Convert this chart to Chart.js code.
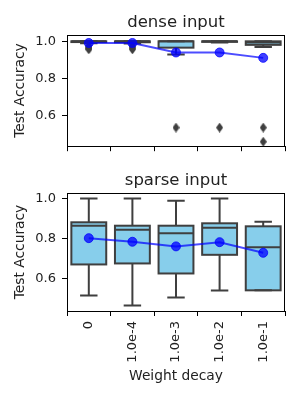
<!DOCTYPE html>
<html>
<head>
<meta charset="utf-8">
<script src="https://cdn.jsdelivr.net/npm/chart.js@4"></script>
<style>
  html, body { margin: 0; padding: 0; background: #fff; }
  #wrap { position: relative; width: 300px; height: 400px; }
  canvas { position: absolute; left: 0; }
</style>
</head>
<body>
<div id="wrap">
  <canvas id="grafDense" width="300" height="160" style="top:0;width:300px;height:160px"></canvas>
  <canvas id="grafSparse" width="300" height="242" style="top:158px;width:300px;height:242px"></canvas>
</div>
<script>
// categories + tick labels
const decayLabels = ['0', '1.0e-4', '1.0e-3', '1.0e-2', '1.0e-1'];
const yTicks = [0.6, 0.8, 1.0];

// dense input
const denseLow    = [0.989, 0.988, 0.929, 0.993, 0.970];
const denseQ1     = [0.996, 0.995, 0.966, 0.997, 0.981];
const denseMedian = [1.000, 1.000, 1.000, 1.000, 0.993];
const denseQ3     = [1.000, 1.000, 1.000, 1.000, 1.000];
const denseHigh   = [1.000, 1.000, 1.000, 1.000, 1.000];
const denseMean   = [0.991, 0.991, 0.940, 0.940, 0.911];
const denseOutliers = [
  [0.976, 0.968, 0.962, 0.957],
  [0.977, 0.969, 0.962, 0.957],
  [0.536],
  [0.536],
  [0.536, 0.460]
];

// sparse input
const sparseLow    = [0.517, 0.467, 0.507, 0.542, 0.543];
const sparseQ1     = [0.672, 0.677, 0.627, 0.720, 0.543];
const sparseMedian = [0.865, 0.845, 0.827, 0.855, 0.758];
const sparseQ3     = [0.882, 0.865, 0.865, 0.877, 0.862];
const sparseHigh   = [1.000, 1.000, 0.990, 1.000, 0.885];
const sparseMean   = [0.803, 0.785, 0.762, 0.783, 0.730];
const sparseOutliers = [[], [], [], [], []];

const FONT = 'DejaVu Sans';
const TXT = '#222';
const EDGE = '#3f3f3f';

function thinDiamond(w, h, color) {
  const c = document.createElement('canvas');
  c.width = w; c.height = h;
  const g = c.getContext('2d');
  g.fillStyle = color;
  g.beginPath();
  g.moveTo(w / 2, 0); g.lineTo(w, h / 2); g.lineTo(w / 2, h); g.lineTo(0, h / 2);
  g.closePath(); g.fill();
  return c;
}
const flierMark = thinDiamond(7, 10, EDGE);

// whiskers, caps, box outline and median, drawn right after the box fill
const boxLines = {
  id: 'boxLines',
  afterDatasetDraw(chart, args, opts) {
    if (args.index !== 2) return;
    const ctx = chart.ctx, y = chart.scales.y;
    ctx.save();
    ctx.strokeStyle = EDGE;
    ctx.lineWidth = 2;
    ctx.lineCap = 'butt';
    args.meta.data.forEach((bar, i) => {
      const cx = bar.x, half = bar.width / 2;
      const pLo = y.getPixelForValue(opts.low[i]);
      const pQ1 = y.getPixelForValue(opts.q1[i]);
      const pMd = y.getPixelForValue(opts.med[i]);
      const pQ3 = y.getPixelForValue(opts.q3[i]);
      const pHi = y.getPixelForValue(opts.high[i]);
      ctx.beginPath();
      // whiskers
      ctx.moveTo(cx, pQ1); ctx.lineTo(cx, pLo);
      ctx.moveTo(cx, pQ3); ctx.lineTo(cx, pHi);
      // caps
      ctx.moveTo(cx - half / 2, pLo); ctx.lineTo(cx + half / 2, pLo);
      ctx.moveTo(cx - half / 2, pHi); ctx.lineTo(cx + half / 2, pHi);
      ctx.stroke();
      ctx.strokeRect(cx - half, pQ3, half * 2, pQ1 - pQ3);
      ctx.beginPath();
      ctx.moveTo(cx - half, pMd); ctx.lineTo(cx + half, pMd);
      ctx.stroke();
    });
    ctx.restore();
  }
};

// axes frame + title centred over the plot area (like matplotlib)
const frame = {
  id: 'frame',
  afterDraw(chart, args, opts) {
    const {ctx, chartArea: a} = chart;
    ctx.save();
    ctx.strokeStyle = '#000';
    ctx.lineWidth = 1;
    ctx.strokeRect(Math.round(a.left) + 0.5, Math.round(a.top) + 0.5,
      Math.round(a.right - a.left) - 1, Math.round(a.bottom - a.top));
    ctx.fillStyle = TXT;
    ctx.font = '16.5px "' + FONT + '"';
    ctx.textAlign = 'center';
    ctx.textBaseline = 'alphabetic';
    ctx.fillText(opts.text, (a.left + a.right) / 2, 27);
    ctx.restore();
  }
};

function makeBoxChart(id, title, st, showX, xHeight, yMin, yMax) {
  const fliers = [];
  st.out.forEach((list, i) => list.forEach(v => fliers.push({x: decayLabels[i], y: v})));
  return new Chart(document.getElementById(id).getContext('2d'), {
    type: 'bar',
    data: {
      labels: decayLabels,
      datasets: [
        {
          type: 'line',
          data: st.mean,
          borderColor: 'rgba(0,0,255,0.7)',
          borderWidth: 2,
          pointRadius: 4.5,
          pointBackgroundColor: 'rgba(0,0,255,0.75)',
          pointBorderColor: 'rgba(0,0,255,0.75)',
          pointBorderWidth: 1,
          tension: 0
        },
        {
          type: 'scatter',
          data: fliers,
          pointStyle: flierMark,
          pointRadius: 4
        },
        {
          type: 'bar',
          data: st.q1.map((v, i) => [v, st.q3[i]]),
          backgroundColor: '#87ceeb',
          borderWidth: 0,
          barPercentage: 0.8,
          categoryPercentage: 1.0
        }
      ]
    },
    options: {
      responsive: false,
      animation: false,
      layout: { padding: { left: 0, right: 15, top: 35, bottom: 0 } },
      plugins: {
        legend: { display: false },
        tooltip: { enabled: false },
        title: { display: false },
        frame: { text: title },
        boxLines: { low: st.low, q1: st.q1, med: st.med, q3: st.q3, high: st.high }
      },
      scales: {
        x: {
          type: 'category',
          offset: true,
          border: { display: false },
          grid: { drawOnChartArea: false, drawTicks: true, tickLength: 5, tickColor: '#000', tickWidth: 1 },
          ticks: {
            display: showX, color: TXT, font: { family: FONT, size: 13 },
            maxRotation: 90, minRotation: 90, padding: 5
          },
          title: {
            display: showX, text: 'Weight decay', color: TXT,
            font: { family: FONT, size: 13.8 }, padding: { top: 0, bottom: 15 }
          },
          afterFit: s => { s.height = xHeight; }
        },
        y: {
          min: yMin, max: yMax,
          border: { display: false },
          grid: { drawOnChartArea: false, drawTicks: true, tickLength: 5, tickColor: '#000', tickWidth: 1 },
          afterBuildTicks: s => { s.ticks = yTicks.map(v => ({ value: v })); },
          ticks: {
            color: TXT, font: { family: FONT, size: 13 }, padding: 6,
            callback: v => Number(v).toFixed(1)
          },
          title: {
            display: true, text: 'Test Accuracy', color: TXT,
            font: { family: FONT, size: 13.8 }, padding: { top: 12, bottom: 0 }
          },
          afterFit: s => { s.width = 67; }
        }
      }
    },
    plugins: [boxLines, frame]
  });
}

makeBoxChart('grafDense', 'dense input', {
  low: denseLow, q1: denseQ1, med: denseMedian, q3: denseQ3, high: denseHigh,
  mean: denseMean, out: denseOutliers
}, false, 7, 0.436, 1.034);

makeBoxChart('grafSparse', 'sparse input', {
  low: sparseLow, q1: sparseQ1, med: sparseMedian, q3: sparseQ3, high: sparseHigh,
  mean: sparseMean, out: sparseOutliers
}, true, 89, 0.44, 1.028);
</script>
</body>
</html>
